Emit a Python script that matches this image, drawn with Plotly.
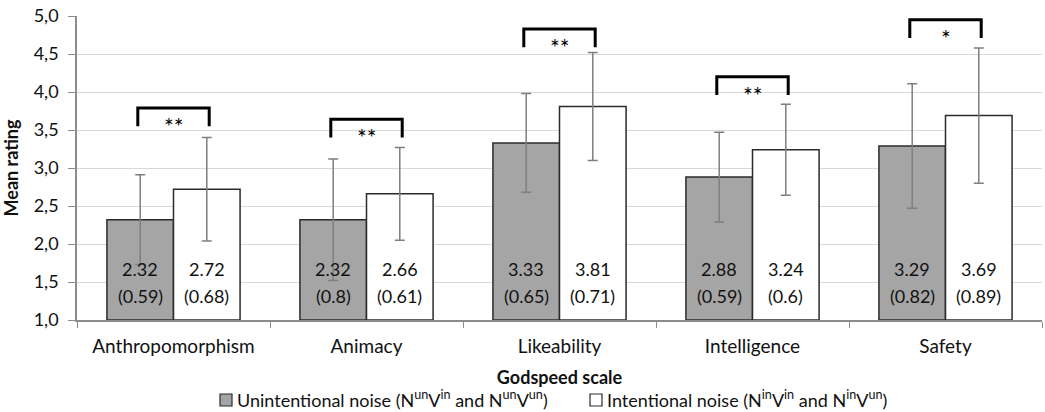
import plotly.graph_objects as go

categories = ["Anthropomorphism", "Animacy", "Likeability", "Intelligence", "Safety"]
unint_mean = [2.32, 2.32, 3.33, 2.88, 3.29]
unint_sd = [0.59, 0.8, 0.65, 0.59, 0.82]
int_mean = [2.72, 2.66, 3.81, 3.24, 3.69]
int_sd = [0.68, 0.61, 0.71, 0.6, 0.89]
sig_labels = ["**", "**", "**", "**", "*"]
bracket_top = [3.79, 3.64, 4.83, 4.20, 4.95]
y_ticks = [1.0, 1.5, 2.0, 2.5, 3.0, 3.5, 4.0, 4.5, 5.0]
y_ticktext = ["1,0", "1,5", "2,0", "2,5", "3,0", "3,5", "4,0", "4,5", "5,0"]
series_names = ["Unintentional noise (N<sup>un</sup>V<sup>in</sup> and N<sup>un</sup>V<sup>un</sup>)",
                "Intentional noise (N<sup>in</sup>V<sup>in</sup> and N<sup>in</sup>V<sup>un</sup>)"]
series_colors = ["#a5a5a5", "#ffffff"]

FONT = "Lato, sans-serif"
W, H = 1045, 412
ML, MR, MT = 77, 3, 16
PH = 304
MB = H - MT - PH
PW = W - ML - MR

def px_x(p):
    return (p - ML) / PW

def px_y(p):
    return (MT + PH - p) / PH

BARGAP = 0.31
off = (1 - BARGAP) / 4

fig = go.Figure()
for name, color, means, sds in [(series_names[0], series_colors[0], unint_mean, unint_sd),
                                (series_names[1], series_colors[1], int_mean, int_sd)]:
    fig.add_trace(go.Bar(
        x=categories, y=[m - 1 for m in means], base=1, name=name,
        marker=dict(color=color, line=dict(color="#2b2b2b", width=1.5)),
        error_y=dict(type="data", array=sds, color="#7f7f7f", thickness=1.5, width=5),
        showlegend=False,
    ))

# value labels inside bars
for k, (means, sds) in enumerate([(unint_mean, unint_sd), (int_mean, int_sd)]):
    sign = -1 if k == 0 else 1
    for i, (m, s) in enumerate(zip(means, sds)):
        fig.add_annotation(x=i + sign * off, y=1, yref="y", xref="x", text=f"{m}",
                           showarrow=False, yanchor="middle", yshift=51,
                           font=dict(size=18, color="#111111", family=FONT))
        fig.add_annotation(x=i + sign * off, y=1, yref="y", xref="x", text=f"({s})",
                           showarrow=False, yanchor="middle", yshift=24,
                           font=dict(size=18, color="#111111", family=FONT))

half = 0.185
leg = 0.24
for i, (top, s) in enumerate(zip(bracket_top, sig_labels)):
    fig.add_shape(type="path",
                  path=f"M {i-half},{top-leg} L {i-half},{top} L {i+half},{top} L {i+half},{top-leg}",
                  xref="x", yref="y", line=dict(color="#000000", width=3))
    fig.add_annotation(x=i, y=top, text=s, showarrow=False, yanchor="top", yshift=-2,
                       font=dict(size=23, color="#000000", family=FONT))

# manual legend
legend_boxes = [(220, 235), (590, 605)]
for (bx, tx), name, color in zip(legend_boxes, series_names, series_colors):
    fig.add_shape(type="rect", xref="paper", yref="paper",
                  x0=px_x(bx), x1=px_x(bx + 12), y0=px_y(406), y1=px_y(394),
                  fillcolor=color, line=dict(color="#2b2b2b", width=1.2))
    fig.add_annotation(xref="paper", yref="paper", x=px_x(tx), y=px_y(399), text=name,
                       showarrow=False, xanchor="left", yanchor="middle",
                       font=dict(size=18, color="#111111", family=FONT))

fig.update_layout(
    width=W, height=H,
    margin=dict(l=ML, r=MR, t=MT, b=MB),
    plot_bgcolor="white", paper_bgcolor="white",
    barmode="group", bargap=BARGAP, bargroupgap=0,
    font=dict(family=FONT, size=17, color="#111111"),
    showlegend=False,
    xaxis=dict(range=[-0.5, 4.5], showline=True, linecolor="#8c8c8c", linewidth=1.5,
               ticks="outside", tickson="boundaries", ticklen=6, tickcolor="#8c8c8c",
               tickfont=dict(size=19), automargin=False, ticklabelstandoff=8,
               title=dict(text="<b>Godspeed scale</b>", font=dict(size=18), standoff=16)),
    yaxis=dict(range=[1, 5], tickvals=y_ticks, ticktext=y_ticktext, showline=True,
               linecolor="#8c8c8c", linewidth=1.5, ticks="outside", ticklen=7, tickcolor="#8c8c8c",
               gridcolor="#d9d9d9", gridwidth=1, tickfont=dict(size=18), automargin=False,
               ticklabelstandoff=6, zeroline=False, ticklabeloverflow="allow",
               title=dict(text="<b>Mean rating</b>", font=dict(size=18), standoff=10)),
)
fig.write_html("out.html", config={"displayModeBar": False},
               post_script="document.body.style.margin='0';")
